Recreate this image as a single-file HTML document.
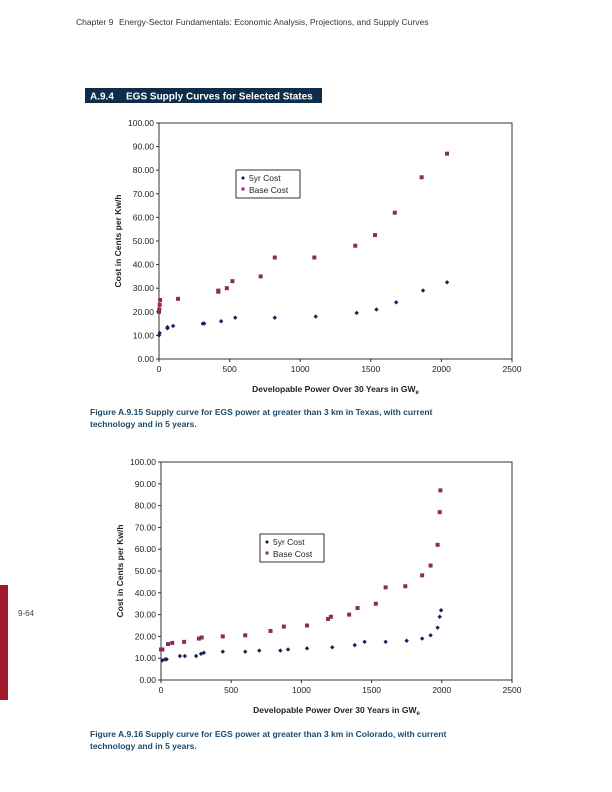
<!DOCTYPE html>
<html><head><meta charset="utf-8"><style>
body{margin:0;background:#fff}
svg{display:block}
text{font-family:"Liberation Sans",sans-serif}
</style></head><body>
<svg id="s" width="612" height="792" xmlns="http://www.w3.org/2000/svg">
<text x="76" y="25" font-size="8.5" fill="#333" font-family="Liberation Serif">Chapter 9</text>
<text x="119" y="25" font-size="8.5" fill="#333">Energy-Sector Fundamentals: Economic Analysis, Projections, and Supply Curves</text>
<rect x="85" y="88" width="237" height="15" fill="#0d2d4a"/>
<text x="90" y="99.5" font-size="10" font-weight="bold" fill="#fff">A.9.4</text>
<text x="126" y="99.5" font-size="10" font-weight="bold" fill="#fff">EGS Supply Curves for Selected States</text>
<rect x="0" y="585" width="8" height="115" fill="#a0182c"/>
<text x="18" y="616" font-size="8" fill="#444" font-family="Liberation Serif">9-64</text>
<text x="90" y="415" font-size="8.5" font-weight="bold" fill="#1d4a6a">Figure A.9.15 Supply curve for EGS power at greater than 3 km in Texas, with current</text>
<text x="90" y="427" font-size="8.5" font-weight="bold" fill="#1d4a6a">technology and in 5 years.</text>
<text x="90" y="737" font-size="8.5" font-weight="bold" fill="#1d4a6a">Figure A.9.16 Supply curve for EGS power at greater than 3 km in Colorado, with current</text>
<text x="90" y="749" font-size="8.5" font-weight="bold" fill="#1d4a6a">technology and in 5 years.</text>
<g id="g"></g>
</svg>
<script>
const g=document.getElementById('g');let h='';
function chart(L,R,T,B,base,fyr,leg){
 const X=v=>L+v/2500*(R-L),Y=v=>B-v/100*(B-T);
 h+=`<rect x="${L}" y="${T}" width="${R-L}" height="${B-T}" fill="none" stroke="#333" stroke-width="1"/>`;
 for(let i=0;i<=10;i++){const y=Y(i*10);h+=`<line x1="${L-3}" x2="${L}" y1="${y}" y2="${y}" stroke="#333"/><text x="${L-5}" y="${y+3}" font-size="8.5" text-anchor="end" fill="#222">${(i*10).toFixed(2)}</text>`;}
 for(let i=0;i<=5;i++){const x=X(i*500);h+=`<line x1="${x}" x2="${x}" y1="${B}" y2="${B+3}" stroke="#333"/><text x="${x}" y="${B+13}" font-size="8.5" text-anchor="middle" fill="#222">${i*500}</text>`;}
 h+=`<text x="${(L+R)/2}" y="${B+33}" font-size="8.5" font-weight="bold" text-anchor="middle" fill="#222">Developable Power Over 30 Years in GW<tspan font-size="6" dy="2">e</tspan></text>`;
 h+=`<text transform="translate(${L-38},${(T+B)/2}) rotate(-90)" font-size="8.5" font-weight="bold" text-anchor="middle" fill="#222">Cost in Cents per Kw/h</text>`;
 base.forEach(p=>h+=`<rect x="${X(p[0])-2}" y="${Y(p[1])-2}" width="4" height="4" fill="#8b2a5e"/>`);
 fyr.forEach(p=>h+=`<path d="M${X(p[0])} ${Y(p[1])-2.2}l2.2 2.2l-2.2 2.2l-2.2 -2.2z" fill="#1c1c5c"/>`);
 const[lx,ly]=leg;h+=`<rect x="${lx}" y="${ly}" width="64" height="28" fill="#fff" stroke="#333"/>
 <path d="M${lx+7} ${ly+6}l2 2l-2 2l-2 -2z" fill="#1c1c5c"/><text x="${lx+13}" y="${ly+11}" font-size="8.5" fill="#222">5yr Cost</text>
 <rect x="${lx+5.5}" y="${ly+17.5}" width="3" height="3" fill="#8b2a5e"/><text x="${lx+13}" y="${ly+23}" font-size="8.5" fill="#222">Base Cost</text>`;
}
chart(159,512,123,359,
[[0,20],[2,21],[5,23],[8,25],[135,25.5],[420,29],[420,28.5],[480,30],[520,33],[720,35],[820,43],[1100,43],[1390,48],[1530,52.5],[1670,62],[1860,77],[2040,87]],
[[0,10],[5,11],[60,13],[60,13.5],[100,14],[310,15],[320,15],[440,16],[540,17.5],[820,17.5],[1110,18],[1400,19.5],[1540,21],[1680,24],[1870,29],[2040,32.5]],[236,170]);
chart(161,512,462,680,
[[0,14],[10,14],[50,16.5],[80,17],[165,17.5],[270,19],[290,19.5],[440,20],[600,20.5],[780,22.5],[875,24.5],[1040,25],[1190,28],[1210,29],[1340,30],[1400,33],[1530,35],[1600,42.5],[1740,43],[1860,48],[1920,52.5],[1970,62],[1985,77],[1990,87]],
[[10,9],[30,9.5],[40,9.5],[135,11],[170,11],[250,11],[285,12],[305,12.5],[440,13],[600,13],[700,13.5],[850,13.5],[905,14],[1040,14.5],[1220,15],[1380,16],[1450,17.5],[1600,17.5],[1750,18],[1860,19],[1920,20.5],[1970,24],[1985,29],[1995,32]],[260,534]);
g.innerHTML=h;
</script>
</body></html>
